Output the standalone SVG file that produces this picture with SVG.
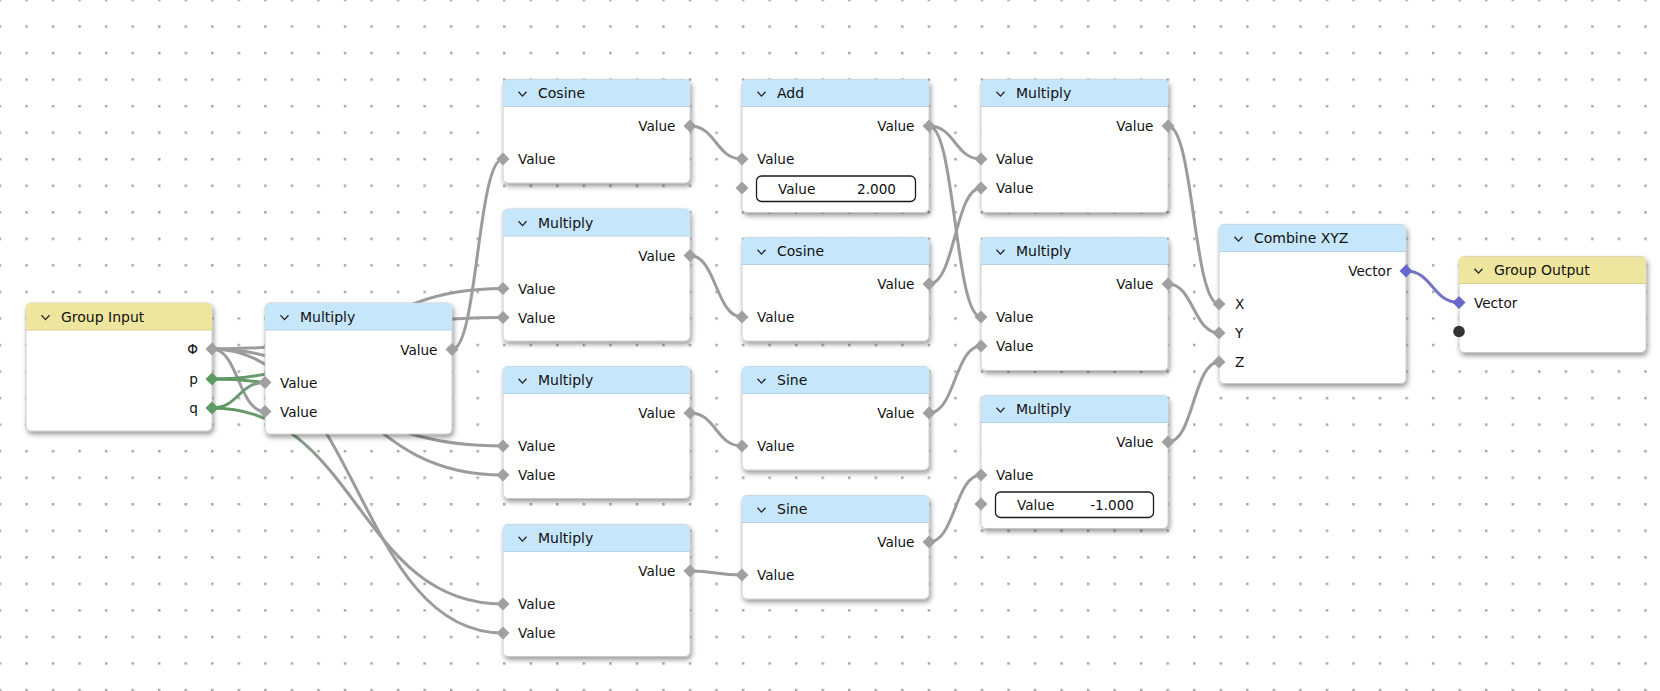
<svg xmlns="http://www.w3.org/2000/svg" xmlns:xlink="http://www.w3.org/1999/xlink" width="1660" height="691" viewBox="0 0 1660 691">
<defs>
<pattern id="grid" x="-1.25" y="-1.25" width="26.54" height="26.54" patternUnits="userSpaceOnUse">
<rect x="0" y="0" width="2.5" height="2.5" fill="#a6a6a6"/>
</pattern>
<filter id="sh" x="-10%" y="-10%" width="125%" height="130%">
<feDropShadow dx="1.5" dy="3" stdDeviation="2.5" flood-color="#000" flood-opacity="0.4"/>
</filter>
<linearGradient id="gShort" gradientUnits="userSpaceOnUse" x1="212" y1="0" x2="265" y2="0">
<stop offset="0" stop-color="#5a955f"/><stop offset="0.55" stop-color="#6a9a6e"/><stop offset="1" stop-color="#9c9c9c"/>
</linearGradient>
<linearGradient id="gLong" gradientUnits="userSpaceOnUse" x1="212" y1="0" x2="503" y2="0">
<stop offset="0" stop-color="#5a955f"/><stop offset="0.15" stop-color="#6a9a6e"/><stop offset="0.4" stop-color="#959c96"/><stop offset="1" stop-color="#9c9c9c"/>
</linearGradient>
<path id="dia" d="M0,-6.5 L6.5,0 L0,6.5 L-6.5,0 Z"/>
<path id="chev" d="M15.5,12.3 L19.5,16.6 L23.5,12.3" fill="none" stroke="#222" stroke-width="1.3"/>
<style>
text{font-family:"DejaVu Sans","Liberation Sans",sans-serif;fill:#111;}
.hd{font-size:14px;}
.lb{font-size:13.6px;}
.r{text-anchor:end;}
.body{fill:#fff;stroke:#c2c2c2;stroke-width:0.8;filter:url(#sh);}
.hb{fill:#c6e6fb;}
.hy{fill:#eee69e;}
.sep{stroke:#b4d3e8;stroke-width:1;}
.sepy{stroke:#d8cf86;stroke-width:1;}
.sg{fill:#a0a0a0;}
.sgr{fill:#5c9c63;}
.sv{fill:#6868cc;}
.fld{fill:#fff;stroke:#1a1a1a;stroke-width:1.3;}
.ln{fill:none;stroke:#9c9c9c;stroke-width:3;}
</style>
</defs>
<rect x="0" y="0" width="1660" height="691" fill="#ffffff"/>
<rect x="0" y="0" width="1660" height="691" fill="url(#grid)"/>

<g id="connectors">
<path class="ln" d="M212,349 C238.5,349 238.5,411.5 265,411.5"/>
<path class="ln" style="stroke:url(#gShort)" d="M212,408 C238.5,408 238.5,382.5 265,382.5"/>
<path class="ln" style="stroke:url(#gLong)" d="M212,379 C357.5,379 357.5,288.5 503,288.5"/>
<path class="ln" d="M212,349 C357.5,349 357.5,317.5 503,317.5"/>
<path class="ln" style="stroke:url(#gLong)" d="M212,379 C357.5,379 357.5,446 503,446"/>
<path class="ln" d="M212,349 C357.5,349 357.5,475 503,475"/>
<path class="ln" style="stroke:url(#gLong)" d="M212,408 C357.5,408 357.5,604 503,604"/>
<path class="ln" d="M212,349 C357.5,349 357.5,633 503,633"/>
<path class="ln" d="M452,349.5 C477.5,349.5 477.5,159 503,159"/>
<path class="ln" d="M690,126 C716,126 716,159 742,159"/>
<path class="ln" d="M690,255.5 C716,255.5 716,317 742,317"/>
<path class="ln" d="M690,413 C716,413 716,446 742,446"/>
<path class="ln" d="M690,571 C716,571 716,575 742,575"/>
<path class="ln" d="M929,126 C955,126 955,159 981,159"/>
<path class="ln" d="M929,126 C955,126 955,317 981,317"/>
<path class="ln" d="M929,284 C955,284 955,188 981,188"/>
<path class="ln" d="M929,413 C955,413 955,346 981,346"/>
<path class="ln" d="M929,542 C955,542 955,475 981,475"/>
<path class="ln" d="M1168,126 C1193.5,126 1193.5,304 1219,304"/>
<path class="ln" d="M1168,284 C1193.5,284 1193.5,333 1219,333"/>
<path class="ln" d="M1168,442 C1193.5,442 1193.5,362 1219,362"/>
<path class="ln" style="stroke:#7474c4" d="M1406,271 C1432.5,271 1432.5,302.5 1459,302.5"/>
</g>

<!-- Group Input -->
<g id="group-input" transform="translate(26,303)">
<rect class="body" x="0" y="0" width="186" height="128" rx="5"/>
<path class="hy" d="M0,27 V5 Q0,0 5,0 H181 Q186,0 186,5 V27 Z"/>
<line class="sepy" x1="0" y1="27" x2="186" y2="27"/>
<use href="#chev"/>
<text class="hd" x="35" y="18.5">Group Input</text>
<text class="lb r" x="172" y="51">Φ</text>
<text class="lb r" x="172" y="81">p</text>
<text class="lb r" x="172" y="110">q</text>
<use href="#dia" class="sg" x="186" y="46"/>
<use href="#dia" class="sgr" x="186" y="76"/>
<use href="#dia" class="sgr" x="186" y="105"/>
</g>

<!-- Multiply 1 -->
<g id="multiply-1" transform="translate(265,303)">
<rect class="body" x="0" y="0" width="187" height="131" rx="5"/>
<path class="hb" d="M0,27 V5 Q0,0 5,0 H182 Q187,0 187,5 V27 Z"/>
<line class="sep" x1="0" y1="27" x2="187" y2="27"/>
<use href="#chev"/>
<text class="hd" x="35" y="18.5">Multiply</text>
<text class="lb r" x="172.5" y="51.5">Value</text>
<text class="lb" x="15" y="84.5">Value</text>
<text class="lb" x="15" y="113.5">Value</text>
<use href="#dia" class="sg" x="187" y="46.5"/>
<use href="#dia" class="sg" x="0" y="79.5"/>
<use href="#dia" class="sg" x="0" y="108.5"/>
</g>

<!-- Cosine 1 -->
<g id="cosine-1" transform="translate(503,79.5)">
<rect class="body" x="0" y="0" width="187" height="103.5" rx="5"/>
<path class="hb" d="M0,27 V5 Q0,0 5,0 H182 Q187,0 187,5 V27 Z"/>
<line class="sep" x1="0" y1="27" x2="187" y2="27"/>
<use href="#chev"/>
<text class="hd" x="35" y="18.5">Cosine</text>
<text class="lb r" x="172.5" y="51.5">Value</text>
<text class="lb" x="15" y="84.5">Value</text>
<use href="#dia" class="sg" x="187" y="46.5"/>
<use href="#dia" class="sg" x="0" y="79.5"/>
</g>

<!-- Multiply 2 -->
<g id="multiply-2" transform="translate(503,209)">
<rect class="body" x="0" y="0" width="187" height="132" rx="5"/>
<path class="hb" d="M0,27 V5 Q0,0 5,0 H182 Q187,0 187,5 V27 Z"/>
<line class="sep" x1="0" y1="27" x2="187" y2="27"/>
<use href="#chev"/>
<text class="hd" x="35" y="18.5">Multiply</text>
<text class="lb r" x="172.5" y="51.5">Value</text>
<text class="lb" x="15" y="84.5">Value</text>
<text class="lb" x="15" y="113.5">Value</text>
<use href="#dia" class="sg" x="187" y="46.5"/>
<use href="#dia" class="sg" x="0" y="79.5"/>
<use href="#dia" class="sg" x="0" y="108.5"/>
</g>

<!-- Multiply 3 -->
<g id="multiply-3" transform="translate(503,366.5)">
<rect class="body" x="0" y="0" width="187" height="132" rx="5"/>
<path class="hb" d="M0,27 V5 Q0,0 5,0 H182 Q187,0 187,5 V27 Z"/>
<line class="sep" x1="0" y1="27" x2="187" y2="27"/>
<use href="#chev"/>
<text class="hd" x="35" y="18.5">Multiply</text>
<text class="lb r" x="172.5" y="51.5">Value</text>
<text class="lb" x="15" y="84.5">Value</text>
<text class="lb" x="15" y="113.5">Value</text>
<use href="#dia" class="sg" x="187" y="46.5"/>
<use href="#dia" class="sg" x="0" y="79.5"/>
<use href="#dia" class="sg" x="0" y="108.5"/>
</g>

<!-- Multiply 4 -->
<g id="multiply-4" transform="translate(503,524.5)">
<rect class="body" x="0" y="0" width="187" height="132" rx="5"/>
<path class="hb" d="M0,27 V5 Q0,0 5,0 H182 Q187,0 187,5 V27 Z"/>
<line class="sep" x1="0" y1="27" x2="187" y2="27"/>
<use href="#chev"/>
<text class="hd" x="35" y="18.5">Multiply</text>
<text class="lb r" x="172.5" y="51.5">Value</text>
<text class="lb" x="15" y="84.5">Value</text>
<text class="lb" x="15" y="113.5">Value</text>
<use href="#dia" class="sg" x="187" y="46.5"/>
<use href="#dia" class="sg" x="0" y="79.5"/>
<use href="#dia" class="sg" x="0" y="108.5"/>
</g>

<!-- Add -->
<g id="add" transform="translate(742,79.5)">
<rect class="body" x="0" y="0" width="187" height="133" rx="5"/>
<path class="hb" d="M0,27 V5 Q0,0 5,0 H182 Q187,0 187,5 V27 Z"/>
<line class="sep" x1="0" y1="27" x2="187" y2="27"/>
<use href="#chev"/>
<text class="hd" x="35" y="18.5">Add</text>
<text class="lb r" x="172.5" y="51.5">Value</text>
<text class="lb" x="15" y="84.5">Value</text>
<rect class="fld" x="14.5" y="96.5" width="159" height="25.5" rx="5"/>
<text class="lb" x="36" y="114">Value</text>
<text class="lb r" x="154" y="114">2.000</text>
<use href="#dia" class="sg" x="187" y="46.5"/>
<use href="#dia" class="sg" x="0" y="79.5"/>
<use href="#dia" class="sg" x="0" y="108.5"/>
</g>

<!-- Cosine 2 -->
<g id="cosine-2" transform="translate(742,237.5)">
<rect class="body" x="0" y="0" width="187" height="103.5" rx="5"/>
<path class="hb" d="M0,27 V5 Q0,0 5,0 H182 Q187,0 187,5 V27 Z"/>
<line class="sep" x1="0" y1="27" x2="187" y2="27"/>
<use href="#chev"/>
<text class="hd" x="35" y="18.5">Cosine</text>
<text class="lb r" x="172.5" y="51.5">Value</text>
<text class="lb" x="15" y="84.5">Value</text>
<use href="#dia" class="sg" x="187" y="46.5"/>
<use href="#dia" class="sg" x="0" y="79.5"/>
</g>

<!-- Sine 1 -->
<g id="sine-1" transform="translate(742,366.5)">
<rect class="body" x="0" y="0" width="187" height="103.5" rx="5"/>
<path class="hb" d="M0,27 V5 Q0,0 5,0 H182 Q187,0 187,5 V27 Z"/>
<line class="sep" x1="0" y1="27" x2="187" y2="27"/>
<use href="#chev"/>
<text class="hd" x="35" y="18.5">Sine</text>
<text class="lb r" x="172.5" y="51.5">Value</text>
<text class="lb" x="15" y="84.5">Value</text>
<use href="#dia" class="sg" x="187" y="46.5"/>
<use href="#dia" class="sg" x="0" y="79.5"/>
</g>

<!-- Sine 2 -->
<g id="sine-2" transform="translate(742,495.5)">
<rect class="body" x="0" y="0" width="187" height="103.5" rx="5"/>
<path class="hb" d="M0,27 V5 Q0,0 5,0 H182 Q187,0 187,5 V27 Z"/>
<line class="sep" x1="0" y1="27" x2="187" y2="27"/>
<use href="#chev"/>
<text class="hd" x="35" y="18.5">Sine</text>
<text class="lb r" x="172.5" y="51.5">Value</text>
<text class="lb" x="15" y="84.5">Value</text>
<use href="#dia" class="sg" x="187" y="46.5"/>
<use href="#dia" class="sg" x="0" y="79.5"/>
</g>

<!-- Multiply 5 -->
<g id="multiply-5" transform="translate(981,79.5)">
<rect class="body" x="0" y="0" width="187" height="133" rx="5"/>
<path class="hb" d="M0,27 V5 Q0,0 5,0 H182 Q187,0 187,5 V27 Z"/>
<line class="sep" x1="0" y1="27" x2="187" y2="27"/>
<use href="#chev"/>
<text class="hd" x="35" y="18.5">Multiply</text>
<text class="lb r" x="172.5" y="51.5">Value</text>
<text class="lb" x="15" y="84.5">Value</text>
<text class="lb" x="15" y="113.5">Value</text>
<use href="#dia" class="sg" x="187" y="46.5"/>
<use href="#dia" class="sg" x="0" y="79.5"/>
<use href="#dia" class="sg" x="0" y="108.5"/>
</g>

<!-- Multiply 6 -->
<g id="multiply-6" transform="translate(981,237.5)">
<rect class="body" x="0" y="0" width="187" height="133" rx="5"/>
<path class="hb" d="M0,27 V5 Q0,0 5,0 H182 Q187,0 187,5 V27 Z"/>
<line class="sep" x1="0" y1="27" x2="187" y2="27"/>
<use href="#chev"/>
<text class="hd" x="35" y="18.5">Multiply</text>
<text class="lb r" x="172.5" y="51.5">Value</text>
<text class="lb" x="15" y="84.5">Value</text>
<text class="lb" x="15" y="113.5">Value</text>
<use href="#dia" class="sg" x="187" y="46.5"/>
<use href="#dia" class="sg" x="0" y="79.5"/>
<use href="#dia" class="sg" x="0" y="108.5"/>
</g>

<!-- Multiply 7 -->
<g id="multiply-7" transform="translate(981,395.5)">
<rect class="body" x="0" y="0" width="187" height="133" rx="5"/>
<path class="hb" d="M0,27 V5 Q0,0 5,0 H182 Q187,0 187,5 V27 Z"/>
<line class="sep" x1="0" y1="27" x2="187" y2="27"/>
<use href="#chev"/>
<text class="hd" x="35" y="18.5">Multiply</text>
<text class="lb r" x="172.5" y="51.5">Value</text>
<text class="lb" x="15" y="84.5">Value</text>
<rect class="fld" x="14.5" y="96.5" width="158" height="25.5" rx="5"/>
<text class="lb" x="36" y="114">Value</text>
<text class="lb r" x="153" y="114">-1.000</text>
<use href="#dia" class="sg" x="187" y="46.5"/>
<use href="#dia" class="sg" x="0" y="79.5"/>
<use href="#dia" class="sg" x="0" y="108.5"/>
</g>

<!-- Combine XYZ -->
<g id="combine-xyz" transform="translate(1219,224.5)">
<rect class="body" x="0" y="0" width="187" height="159" rx="5"/>
<path class="hb" d="M0,27 V5 Q0,0 5,0 H182 Q187,0 187,5 V27 Z"/>
<line class="sep" x1="0" y1="27" x2="187" y2="27"/>
<use href="#chev"/>
<text class="hd" x="35" y="18.5">Combine XYZ</text>
<text class="lb r" x="172.5" y="51.5">Vector</text>
<text class="lb" x="16" y="84.5">X</text>
<text class="lb" x="16" y="113.5">Y</text>
<text class="lb" x="16" y="142.5">Z</text>
<use href="#dia" class="sv" x="187" y="46.5"/>
<use href="#dia" class="sg" x="0" y="79.5"/>
<use href="#dia" class="sg" x="0" y="108.5"/>
<use href="#dia" class="sg" x="0" y="137.5"/>
</g>

<!-- Group Output -->
<g id="group-output" transform="translate(1459,256.5)">
<rect class="body" x="0" y="0" width="187" height="96" rx="5"/>
<path class="hy" d="M0,27 V5 Q0,0 5,0 H182 Q187,0 187,5 V27 Z"/>
<line class="sepy" x1="0" y1="27" x2="187" y2="27"/>
<use href="#chev"/>
<text class="hd" x="35" y="18.5">Group Output</text>
<text class="lb" x="15" y="51">Vector</text>
<use href="#dia" class="sv" x="0" y="46"/>
<circle cx="0" cy="75" r="5.8" fill="#333"/>
</g>
</svg>
